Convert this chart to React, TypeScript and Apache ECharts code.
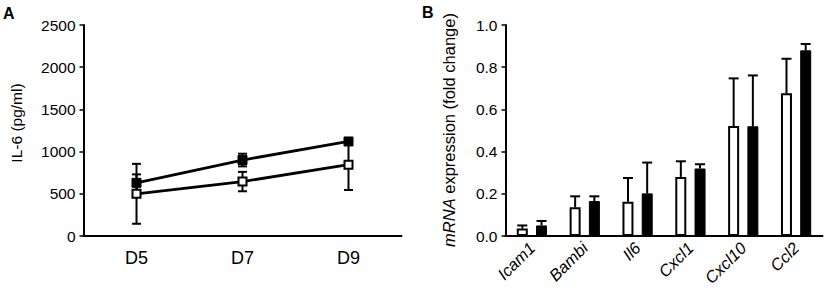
import React, { useEffect, useRef } from "react";
import * as echarts from "echarts";

// Panel A data
const daysA = ["D5", "D7", "D9"];
const il6Open = [500, 645, 845];
const il6OpenErr = [355, 115, 300];
const il6Filled = [630, 900, 1120];
const il6FilledErr = [100, 75, 30];
const yTicksA = [0, 2500, 500]; // min, max, interval

// Panel B data
const genes = ["Icam1", "Bambi", "Il6", "Cxcl1", "Cxcl10", "Ccl2"];
const mrnaOpen = [0.035, 0.136, 0.162, 0.28, 0.521, 0.676];
const mrnaOpenErr = [0.015, 0.052, 0.113, 0.074, 0.226, 0.164];
const mrnaFilled = [0.05, 0.166, 0.202, 0.32, 0.52, 0.88];
const mrnaFilledErr = [0.021, 0.022, 0.146, 0.02, 0.241, 0.03];
const yTicksB = [0, 1, 0.2];

const FONT = "'Liberation Sans', Arial, Helvetica, sans-serif";

export default function App() {
  const ref = useRef<HTMLDivElement>(null);
  useEffect(() => {
    if (!ref.current) return;
    const chart = echarts.init(ref.current, null, { renderer: "svg" });

    const errA = (means: number[], errs: number[]) =>
      means.map((m, i) => [i, m - errs[i], m + errs[i]]);
    const errB = (means: number[], errs: number[]) =>
      means.map((m, i) => [i, m, m + errs[i]]);

    const renderErrA = (params: any, api: any) => {
      const i = api.value(0);
      const lo = api.coord([i, api.value(1)]);
      const hi = api.coord([i, api.value(2)]);
      const x = lo[0];
      const cap = 4.5;
      const st = { stroke: "#000", lineWidth: 2 };
      return {
        type: "group",
        children: [
          { type: "line", shape: { x1: x, y1: lo[1], x2: x, y2: hi[1] }, style: st },
          { type: "line", shape: { x1: x - cap, y1: lo[1], x2: x + cap, y2: lo[1] }, style: st },
          { type: "line", shape: { x1: x - cap, y1: hi[1], x2: x + cap, y2: hi[1] }, style: st },
        ],
      };
    };

    const makeRenderErrB = (offset: number) => (params: any, api: any) => {
      const i = api.value(0);
      const lo = api.coord([i, api.value(1)]);
      const hi = api.coord([i, api.value(2)]);
      const x = lo[0] + offset;
      const cap = 5;
      const st = { stroke: "#000", lineWidth: 2 };
      return {
        type: "group",
        children: [
          { type: "line", shape: { x1: x, y1: lo[1], x2: x, y2: hi[1] }, style: st },
          { type: "line", shape: { x1: x - cap, y1: hi[1], x2: x + cap, y2: hi[1] }, style: st },
        ],
      };
    };

    const axisLineStyle = { lineStyle: { color: "#000", width: 2 } };
    const tickStyle = { lineStyle: { color: "#000", width: 1.5 } };

    chart.setOption({
      animation: false,
      backgroundColor: "#fff",
      textStyle: { fontFamily: FONT, color: "#000" },
      grid: [
        { left: 83.5, top: 25, width: 318, height: 211 },
        { left: 505.5, top: 25, width: 317, height: 211 },
      ],
      xAxis: [
        {
          type: "category",
          gridIndex: 0,
          data: daysA,
          boundaryGap: true,
          axisLine: axisLineStyle,
          axisTick: { alignWithLabel: true, length: 5, ...tickStyle },
          axisLabel: { color: "#000", fontSize: 18, margin: 13, fontFamily: FONT },
        },
        {
          type: "category",
          gridIndex: 1,
          data: genes,
          boundaryGap: true,
          axisLine: axisLineStyle,
          axisTick: { alignWithLabel: true, length: 5, ...tickStyle },
          axisLabel: {
            color: "#000",
            fontSize: 16.5,
            fontStyle: "italic",
            rotate: 45,
            margin: 9,
            fontFamily: FONT,
          },
        },
      ],
      yAxis: [
        {
          type: "value",
          gridIndex: 0,
          min: yTicksA[0],
          max: yTicksA[1],
          interval: yTicksA[2],
          splitLine: { show: false },
          axisLine: { show: true, ...axisLineStyle },
          axisTick: { show: true, length: 4, ...tickStyle },
          axisLabel: {
            color: "#000",
            fontSize: 15.5,
            margin: 8,
            fontFamily: FONT,
            formatter: (v: number) => String(v),
          },
        },
        {
          type: "value",
          gridIndex: 1,
          min: yTicksB[0],
          max: yTicksB[1],
          interval: yTicksB[2],
          splitLine: { show: false },
          axisLine: { show: true, ...axisLineStyle },
          axisTick: { show: true, length: 4, ...tickStyle },
          axisLabel: {
            color: "#000",
            fontSize: 15.5,
            margin: 8,
            fontFamily: FONT,
            formatter: (v: number) => v.toFixed(1),
          },
        },
      ],
      graphic: [
        {
          type: "text",
          left: 3,
          top: 5,
          style: { text: "A", fontSize: 16, fontWeight: "bold", fill: "#000", fontFamily: FONT },
        },
        {
          type: "text",
          left: 422,
          top: 4,
          style: { text: "B", fontSize: 16, fontWeight: "bold", fill: "#000", fontFamily: FONT },
        },
        {
          type: "text",
          x: 16,
          y: 123,
          rotation: Math.PI / 2,
          style: {
            text: "IL-6 (pg/ml)",
            fontSize: 15.5,
            fill: "#000",
            fontFamily: FONT,
            align: "center",
            verticalAlign: "middle",
          },
        },
        {
          type: "text",
          x: 449,
          y: 130,
          rotation: Math.PI / 2,
          style: {
            text: "{i|mRNA} expression (fold change)",
            fontSize: 16.5,
            fill: "#000",
            fontFamily: FONT,
            align: "center",
            verticalAlign: "middle",
            rich: {
              i: { fontStyle: "italic", fontSize: 16.5, fontFamily: FONT, fill: "#000" },
            },
          },
        },
      ],
      series: [
        {
          type: "custom",
          xAxisIndex: 0,
          yAxisIndex: 0,
          renderItem: renderErrA,
          data: errA(il6Filled, il6FilledErr),
          encode: { x: 0, y: [1, 2] },
          z: 1,
          silent: true,
        },
        {
          type: "custom",
          xAxisIndex: 0,
          yAxisIndex: 0,
          renderItem: renderErrA,
          data: errA(il6Open, il6OpenErr),
          encode: { x: 0, y: [1, 2] },
          z: 1,
          silent: true,
        },
        {
          type: "line",
          xAxisIndex: 0,
          yAxisIndex: 0,
          data: il6Filled,
          symbol: "rect",
          symbolSize: 9,
          lineStyle: { color: "#000", width: 2.8 },
          itemStyle: { color: "#000", borderColor: "#000", borderWidth: 1 },
          z: 2,
        },
        {
          type: "line",
          xAxisIndex: 0,
          yAxisIndex: 0,
          data: il6Open,
          symbol: "rect",
          symbolSize: 8,
          showAllSymbol: true,
          lineStyle: { color: "#000", width: 2.8 },
          itemStyle: { color: "#fff", borderColor: "#000", borderWidth: 2 },
          z: 3,
        },
        {
          type: "bar",
          xAxisIndex: 1,
          yAxisIndex: 1,
          data: mrnaOpen,
          barWidth: 11,
          barGap: "75%",
          itemStyle: { color: "#fff", borderColor: "#000", borderWidth: 2 },
          z: 2,
        },
        {
          type: "bar",
          xAxisIndex: 1,
          yAxisIndex: 1,
          data: mrnaFilled,
          barWidth: 11,
          barGap: "75%",
          itemStyle: { color: "#000", borderColor: "#000", borderWidth: 1 },
          z: 2,
        },
        {
          type: "custom",
          xAxisIndex: 1,
          yAxisIndex: 1,
          renderItem: makeRenderErrB(-9.6),
          data: errB(mrnaOpen, mrnaOpenErr),
          encode: { x: 0, y: [1, 2] },
          z: 1,
          silent: true,
        },
        {
          type: "custom",
          xAxisIndex: 1,
          yAxisIndex: 1,
          renderItem: makeRenderErrB(9.6),
          data: errB(mrnaFilled, mrnaFilledErr),
          encode: { x: 0, y: [1, 2] },
          z: 1,
          silent: true,
        },
      ],
    });

    return () => chart.dispose();
  }, []);

  return (
    <div
      ref={ref}
      style={{ position: "fixed", left: 0, top: 0, width: 829, height: 295, background: "#fff" }}
    />
  );
}
